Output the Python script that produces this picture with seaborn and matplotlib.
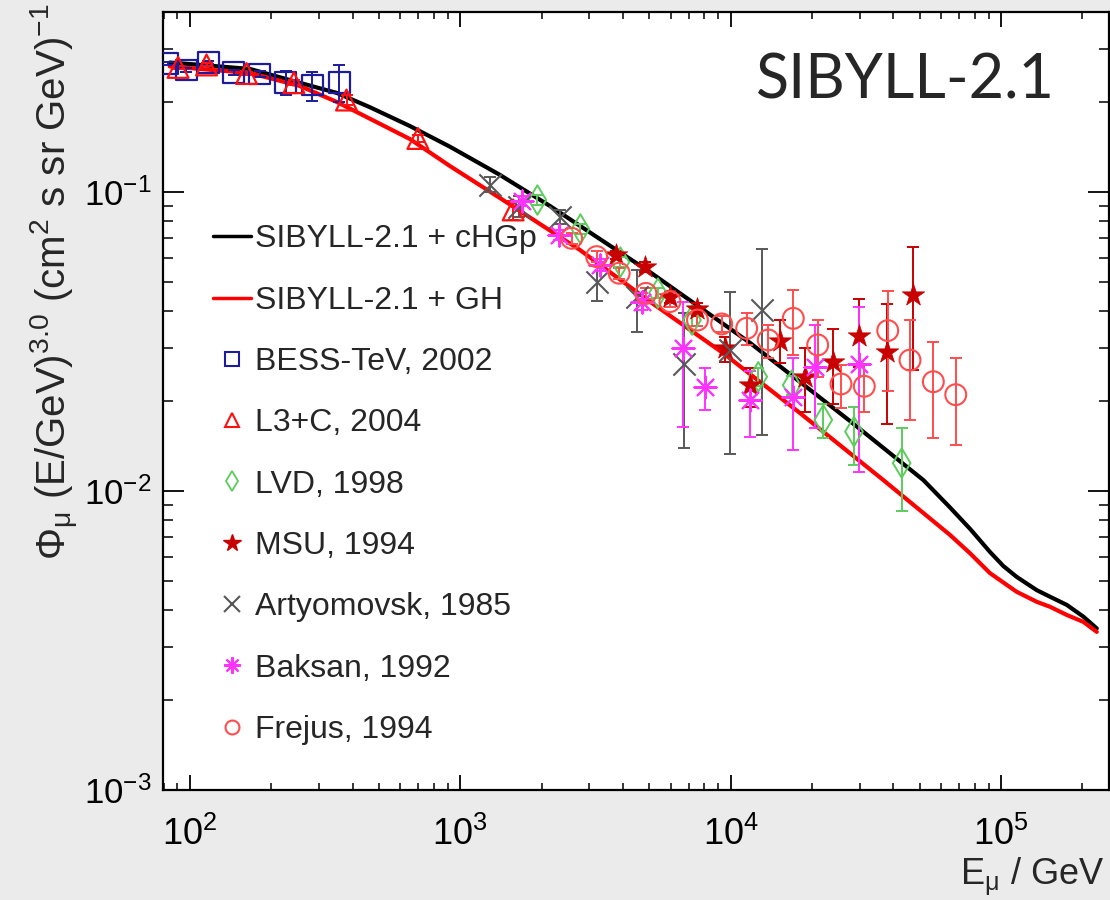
import numpy as np
import matplotlib
matplotlib.use("Agg")
import matplotlib.pyplot as plt
import seaborn as sns
from matplotlib.lines import Line2D
from matplotlib.ticker import LogLocator, NullFormatter

# ---------------- data ----------------
chgp_E = [84.3, 89.5, 166.7, 255.3, 349.9, 463.5, 651.4, 915.6, 1402, 2147, 3287, 5031,
          11800, 27650, 51640, 64800, 76880, 91150, 102100, 114400, 135700, 151900,
          175200, 201800, 226200]
chgp_F = [0.271, 0.270, 0.258, 0.2318, 0.2144, 0.1921, 0.1662, 0.1418, 0.1141, 0.0898,
          0.0696, 0.0540, 0.0313, 0.01714, 0.01088, 0.00881, 0.00747, 0.00625, 0.00561,
          0.00516, 0.00466, 0.00443, 0.00416, 0.00380, 0.00347]

gh_E = [84.3, 166.7, 255.3, 349.9, 651.4, 915.6, 1402, 2772, 5031, 9397, 18060, 36730,
        64800, 76880, 91150, 114400, 135700, 151900, 175200, 201800, 226200]
gh_F = [0.263, 0.250, 0.2262, 0.200, 0.1504, 0.1222, 0.0955, 0.0640, 0.0430, 0.0289,
        0.01823, 0.01088, 0.00713, 0.00619, 0.00531, 0.00460, 0.00426, 0.00410,
        0.00385, 0.00365, 0.00338]

bess_E = [83.1, 97.2, 116.9, 145.5, 181.5, 226.6, 283.5, 356.8]
bess_F = [0.269, 0.256, 0.271, 0.251, 0.248, 0.232, 0.228, 0.233]
bess_lo = [0.265, 0.252, 0.267, 0.246, 0.242, 0.211, 0.202, 0.200]
bess_hi = [0.273, 0.260, 0.275, 0.256, 0.254, 0.253, 0.251, 0.265]

l3c_E = [90.5, 115.3, 162.1, 242.6, 379.8, 697.5, 1570]
l3c_F = [0.261, 0.266, 0.249, 0.232, 0.203, 0.151, 0.0871]
l3c_lo = [0.258, 0.263, 0.246, 0.228, 0.195, 0.147, 0.0806]
l3c_hi = [0.264, 0.269, 0.252, 0.236, 0.211, 0.155, 0.0936]

lvd_E = [1930, 2784, 3914, 5387, 7198, 12660, 16830, 22030, 28610, 42950]
lvd_F = [0.0940, 0.0752, 0.0583, 0.0459, 0.0373, 0.0241, 0.0226, 0.0173, 0.0158, 0.0124]
lvd_lo = [0.0905, 0.0722, 0.0560, 0.0441, 0.0355, 0.0224, 0.0210, 0.0150, 0.0122, 0.00857]
lvd_hi = [0.0975, 0.0782, 0.0606, 0.0477, 0.0391, 0.0258, 0.0242, 0.0196, 0.0191, 0.0163]

msu_E = [3767, 4824, 5967, 7543, 9535, 11800, 15230, 18850, 23870, 29930, 37990, 47420]
msu_F = [0.0616, 0.0562, 0.0445, 0.0406, 0.0300, 0.0226, 0.0318, 0.0241, 0.0271, 0.0330, 0.0292, 0.0452]
msu_lo = [0.0595, 0.0542, 0.0425, 0.0385, 0.0271, 0.0191, 0.0267, 0.0184, 0.0196, 0.0260, 0.0168, 0.0254]
msu_hi = [0.0637, 0.0582, 0.0465, 0.0427, 0.0328, 0.0257, 0.0373, 0.0300, 0.0348, 0.0439, 0.0422, 0.0653]

art_E = [1288, 1649, 2348, 3196, 4494, 6723, 9950, 13040]
art_F = [0.1055, 0.0891, 0.0825, 0.0501, 0.0446, 0.0266, 0.0296, 0.0403]
art_lo = [0.1002, 0.0825, 0.0782, 0.0433, 0.0341, 0.0139, 0.0133, 0.0154]
art_hi = [0.1125, 0.0970, 0.0871, 0.0585, 0.0548, 0.0393, 0.0462, 0.0645]

bak_E = [1687, 2324, 3287, 4690, 6683, 8039, 11800, 17060, 20520, 29930]
bak_F = [0.0935, 0.0718, 0.0570, 0.0430, 0.0300, 0.0223, 0.0201, 0.0207, 0.0260, 0.0266]
bak_lo = [0.0900, 0.0690, 0.0545, 0.0403, 0.0164, 0.0187, 0.0152, 0.0137, 0.0162, 0.0116]
bak_hi = [0.0970, 0.0746, 0.0595, 0.0459, 0.0430, 0.0257, 0.0251, 0.0278, 0.0359, 0.0413]

fre_E = [2582, 3196, 3873, 4864, 5967, 7543, 9270, 11470, 13790, 17060, 21000,
         25610, 31230, 38130, 46100, 56230, 68050]
fre_F = [0.0700, 0.0608, 0.0535, 0.0458, 0.0430, 0.0373, 0.0362, 0.0350, 0.0320, 0.0378, 0.0308,
         0.0228, 0.0224, 0.0344, 0.0274, 0.0232, 0.0210]
fre_lo = [0.0670, 0.0582, 0.0512, 0.0438, 0.0411, 0.0355, 0.0340, 0.0308, 0.0278, 0.0285, 0.0241,
          0.0189, 0.0184, 0.0216, 0.0173, 0.0150, 0.0142]
fre_hi = [0.0730, 0.0634, 0.0558, 0.0478, 0.0449, 0.0391, 0.0384, 0.0393, 0.0359, 0.0470, 0.0373,
          0.0264, 0.0264, 0.0467, 0.0373, 0.0316, 0.0279]

labels = ["SIBYLL-2.1 + cHGp", "SIBYLL-2.1 + GH", "BESS-TeV, 2002", "L3+C, 2004",
          "LVD, 1998", "MSU, 1994", "Artyomovsk, 1985", "Baksan, 1992", "Frejus, 1994"]

# ---------------- style ----------------
sns.set_theme(style="ticks")
plt.rcParams["font.family"] = ["Liberation Sans", "DejaVu Sans"]
plt.rcParams["mathtext.fontset"] = "custom"
plt.rcParams["mathtext.rm"] = "Liberation Sans"
plt.rcParams["mathtext.it"] = "Liberation Sans:italic"
plt.rcParams["mathtext.bf"] = "Liberation Sans:bold"
plt.rcParams["mathtext.sf"] = "Liberation Sans"

C_BESS = "#1c1c9c"
C_L3C = "#ff1010"
C_LVD = "#5ccc5c"
C_MSU = "#c80000"
C_ART = "#585858"
C_BAK = "#ff33ff"
C_FRE = "#ff4d4d"
ASTER = (8, 2, 0)

fig = plt.figure(figsize=(11.1, 9.0), dpi=100, facecolor="#ebebeb")
ax = fig.add_axes([0.1466, 0.1222, 0.8525, 0.8645])
ax.set_facecolor("white")
ax.set_xscale("log")
ax.set_yscale("log")

# model curves
sns.lineplot(x=chgp_E, y=chgp_F, color="black", lw=3.0, ax=ax, sort=False,
             estimator=None, zorder=2)
sns.lineplot(x=gh_E, y=gh_F, color="#ff0000", lw=3.0, ax=ax, sort=False,
             estimator=None, zorder=2)


def errs(E, F, lo, hi, c, z):
    F = np.asarray(F); lo = np.asarray(lo); hi = np.asarray(hi)
    ax.errorbar(E, F, yerr=[F - lo, hi - F], fmt="none", ecolor=c, elinewidth=1.4,
                capsize=4.5, capthick=1.4, zorder=z)


errs(bess_E, bess_F, bess_lo, bess_hi, C_BESS, 3)
errs(l3c_E, l3c_F, l3c_lo, l3c_hi, C_L3C, 3)
errs(lvd_E, lvd_F, lvd_lo, lvd_hi, C_LVD, 3)
errs(msu_E, msu_F, msu_lo, msu_hi, C_MSU, 3)
errs(art_E, art_F, art_lo, art_hi, C_ART, 3)
errs(bak_E, bak_F, bak_lo, bak_hi, C_BAK, 3)
errs(fre_E, fre_F, fre_lo, fre_hi, C_FRE, 3)

sns.scatterplot(x=bess_E, y=bess_F, marker="s", s=15**2, facecolor="none",
                edgecolor=C_BESS, linewidth=1.6, ax=ax, zorder=4, legend=False)
sns.scatterplot(x=l3c_E, y=l3c_F, marker="^", s=15**2, facecolor="none",
                edgecolor=C_L3C, linewidth=1.6, ax=ax, zorder=4, legend=False)
sns.scatterplot(x=lvd_E, y=lvd_F, marker="d", s=15**2, facecolor="none",
                edgecolor=C_LVD, linewidth=1.4, ax=ax, zorder=4, legend=False)
sns.scatterplot(x=msu_E, y=msu_F, marker="*", s=17**2, color=C_MSU,
                edgecolor=C_MSU, linewidth=0.5, ax=ax, zorder=4, legend=False)
sns.scatterplot(x=art_E, y=art_F, marker="x", s=16**2, color=C_ART,
                linewidth=1.5, ax=ax, zorder=4, legend=False)
sns.scatterplot(x=bak_E, y=bak_F, marker=ASTER, s=16**2, color=C_BAK,
                linewidth=1.5, ax=ax, zorder=4, legend=False)
sns.scatterplot(x=fre_E, y=fre_F, marker="o", s=15**2, facecolor="none",
                edgecolor=C_FRE, linewidth=1.5, ax=ax, zorder=5, legend=False)

# axes ranges and ticks
ax.set_xlim(79.4, 2.51e5)
ax.set_ylim(1e-3, 0.40)
for axis in (ax.xaxis, ax.yaxis):
    axis.set_major_locator(LogLocator(base=10, numticks=20))
    axis.set_minor_locator(LogLocator(base=10, subs=np.arange(2, 10) * 1.0, numticks=100))
    axis.set_minor_formatter(NullFormatter())
ax.tick_params(which="both", direction="in", top=True, right=True, colors="black")
ax.tick_params(axis="x", which="major", length=10.5, width=1.3, pad=19, labelsize=26)
ax.tick_params(axis="x", which="minor", length=5.0, width=1.1)
ax.tick_params(axis="y", which="major", length=15, width=1.3, pad=8, labelsize=25)
ax.tick_params(axis="y", which="minor", length=7.5, width=1.1)
for sp in ax.spines.values():
    sp.set_linewidth(1.6)
    sp.set_color("black")
    sp.set_visible(True)

ax.set_xlabel("")
ax.set_ylabel("")
fig.text(1104 / 1110, 1 - 885 / 900, r"E$_{\mathrm{\mu}}$ / GeV", ha="right", va="baseline",
         fontsize=26)
fig.text(55 / 1110, 0.996,
         r"$\Phi_{\mathrm{\mu}}$ (E/GeV)$^{3.0}$ (cm$^{2}$ s sr GeV)$^{-1}$",
         rotation=90, ha="center", va="top", fontsize=29)

ax.text(0.943, 0.889, "SIBYLL-2.1", transform=ax.transAxes, ha="right", va="baseline",
        fontsize=44, family=["Lato", "Liberation Sans"], fontweight="normal")

# legend
handles = [
    Line2D([], [], color="black", lw=2.5),
    Line2D([], [], color="#ff0000", lw=2.5),
    Line2D([], [], ls="none", marker="s", ms=10, mfc="none", mec=C_BESS, mew=1.5),
    Line2D([], [], ls="none", marker="^", ms=10, mfc="none", mec=C_L3C, mew=1.5),
    Line2D([], [], ls="none", marker="d", ms=10, mfc="none", mec=C_LVD, mew=1.3),
    Line2D([], [], ls="none", marker="*", ms=13, mfc=C_MSU, mec=C_MSU),
    Line2D([], [], ls="none", marker="x", ms=12, mec=C_ART, mew=1.5),
    Line2D([], [], ls="none", marker=ASTER, ms=12, mec=C_BAK, mew=1.5),
    Line2D([], [], ls="none", marker="o", ms=10, mfc="none", mec=C_FRE, mew=1.5),
]
leg = ax.legend(handles, labels, loc="upper left", bbox_to_anchor=(0.053, 0.727),
                frameon=False, fontsize=23, borderpad=0, borderaxespad=0,
                handlelength=1.2, handletextpad=0.12, labelspacing=0.98)

fig.savefig("out.png", dpi=100, facecolor=fig.get_facecolor())
